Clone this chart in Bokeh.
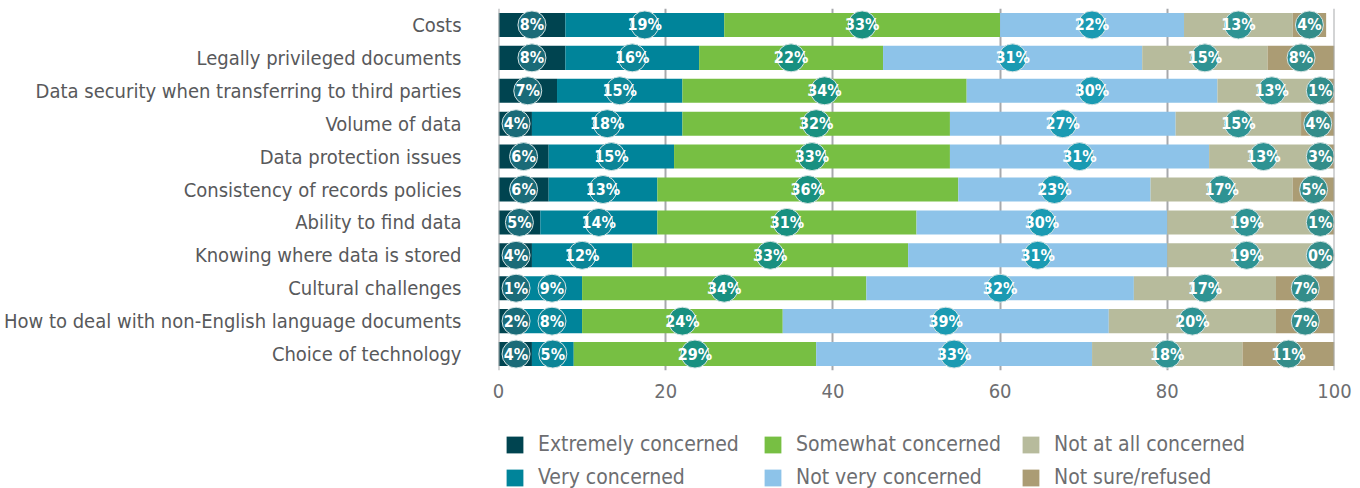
from bokeh.plotting import figure
from bokeh.layouts import column
from bokeh.models import (ColumnDataSource, FactorRange, Range1d, FixedTicker,
                          Legend, LegendItem, Span)
from bokeh.core.properties import value
from bokeh.embed import file_html
from bokeh.resources import INLINE

categories = ["Costs", "Legally privileged documents",
              "Data security when transferring to third parties",
              "Volume of data", "Data protection issues",
              "Consistency of records policies", "Ability to find data",
              "Knowing where data is stored", "Cultural challenges",
              "How to deal with non-English language documents",
              "Choice of technology"]

series_names = ["Extremely concerned", "Very concerned", "Somewhat concerned",
                "Not very concerned", "Not at all concerned", "Not sure/refused"]

extremely = [8, 8, 7, 4, 6, 6, 5, 4, 1, 2, 4]
very = [19, 16, 15, 18, 15, 13, 14, 12, 9, 8, 5]
somewhat = [33, 22, 34, 32, 33, 36, 31, 33, 34, 24, 29]
not_very = [22, 31, 30, 27, 31, 23, 30, 31, 32, 39, 33]
not_at_all = [13, 15, 13, 15, 13, 17, 19, 19, 17, 20, 18]
not_sure = [4, 8, 1, 4, 3, 5, 1, 0, 7, 7, 11]

x_ticks = [0, 20, 40, 60, 80, 100]

colors = ["#004450", "#00849a", "#77bf43", "#8dc3e9", "#b7bb9c", "#ab9c74"]
circle_colors = ["#1a6b78", "#0c8597", "#189080", "#1a9ab2", "#2e9393", "#338d8a"]

FONT = "'Liberation Sans Narrow', 'DejaVu Sans Condensed', 'Roboto', sans-serif"

all_series = [extremely, very, somewhat, not_very, not_at_all, not_sure]
keys = ["s%d" % i for i in range(6)]
data = {"cat": categories}
for k, s in zip(keys, all_series):
    data[k] = s
source = ColumnDataSource(data)

p = figure(width=1360, height=410,
           y_range=FactorRange(factors=list(reversed(categories))),
           x_range=Range1d(0, 100),
           output_backend="svg", toolbar_location=None,
           min_border_left=497, min_border_right=26,
           min_border_top=8, min_border_bottom=40)
p.outline_line_color = None
p.background_fill_color = "white"
p.border_fill_color = "white"

renderers = p.hbar_stack(keys, y="cat", height=0.73, color=colors,
                         line_color=None, source=source)

# label circles
lx, ly, lt, lc = [], [], [], []
for ci, cat in enumerate(categories):
    cum = 0
    prev = None
    for si, s in enumerate(all_series):
        v = s[ci]
        c = cum + v / 2.0
        cum += v
        c = min(max(c, 2.1), 98.3)
        if prev is not None and c - prev < 4.3:
            c = prev + 4.3
        prev = c
        lx.append(c)
        ly.append(cat)
        lt.append("%d%%" % v)
        lc.append(circle_colors[si])
lsrc = ColumnDataSource(dict(x=lx, y=ly, t=lt, c=lc))
p.scatter("x", "y", source=lsrc, marker="circle", size=28,
          fill_color="c", line_color="#d6e4e4", line_width=1)
p.text("x", "y", text="t", source=lsrc, text_align="center",
       text_baseline="middle", text_color="white",
       text_font=value(FONT), text_font_size="16px", text_font_style="bold")

# grid
p.ygrid.grid_line_color = None
p.xgrid.ticker = FixedTicker(ticks=x_ticks)
p.xgrid.grid_line_color = "#a7a9ac"
p.xgrid.grid_line_width = 2
for loc in (x_ticks[0], x_ticks[-1]):
    p.add_layout(Span(location=loc, dimension="height", line_color="#a7a9ac",
                      line_width=2, level="overlay"))

# axes
p.xaxis.ticker = FixedTicker(ticks=x_ticks)
p.xaxis.axis_line_color = None
p.xaxis.major_tick_line_color = None
p.xaxis.minor_tick_line_color = None
p.xaxis.major_tick_out = 0
p.xaxis.major_tick_in = 0
p.xaxis.major_label_standoff = 13
p.xaxis.major_label_text_font = FONT
p.xaxis.major_label_text_font_size = "20px"
p.xaxis.major_label_text_color = "#6d6e71"

p.yaxis.axis_line_color = None
p.yaxis.major_tick_line_color = None
p.yaxis.minor_tick_line_color = None
p.yaxis.major_tick_out = 0
p.yaxis.major_tick_in = 0
p.yaxis.major_label_standoff = 37
p.yaxis.major_label_text_font = FONT
p.yaxis.major_label_text_font_size = "20px"
p.yaxis.major_label_text_color = "#58595b"

# legend in its own strip below the chart
p2 = figure(width=1360, height=78, x_range=Range1d(0, 1), y_range=Range1d(0, 1),
            output_backend="svg", toolbar_location=None,
            x_axis_location=None, y_axis_location=None,
            min_border_left=497, min_border_top=16, min_border_bottom=0,
            min_border_right=26)
p2.outline_line_color = None
p2.grid.grid_line_color = None
leg_renderers = [p2.hbar(y=[-10], left=[0], right=[0.001], height=0.5,
                         color=c, line_color=None)
                 for c in colors]
items = [LegendItem(label=n, renderers=[r]) for n, r in zip(series_names, leg_renderers)]
legend = Legend(items=items, orientation="vertical", nrows=2,
                location="top_left", padding=0, margin=6,
                border_line_color=None, background_fill_alpha=0,
                glyph_width=21, glyph_height=21, label_standoff=13,
                label_width=215, spacing=9,
                label_text_font=FONT, label_text_font_size="21px",
                label_text_color="#6d6e71")
p2.add_layout(legend, "center")

layout = column(p, p2, spacing=0)
open("out.html", "w").write(file_html(layout, INLINE))
